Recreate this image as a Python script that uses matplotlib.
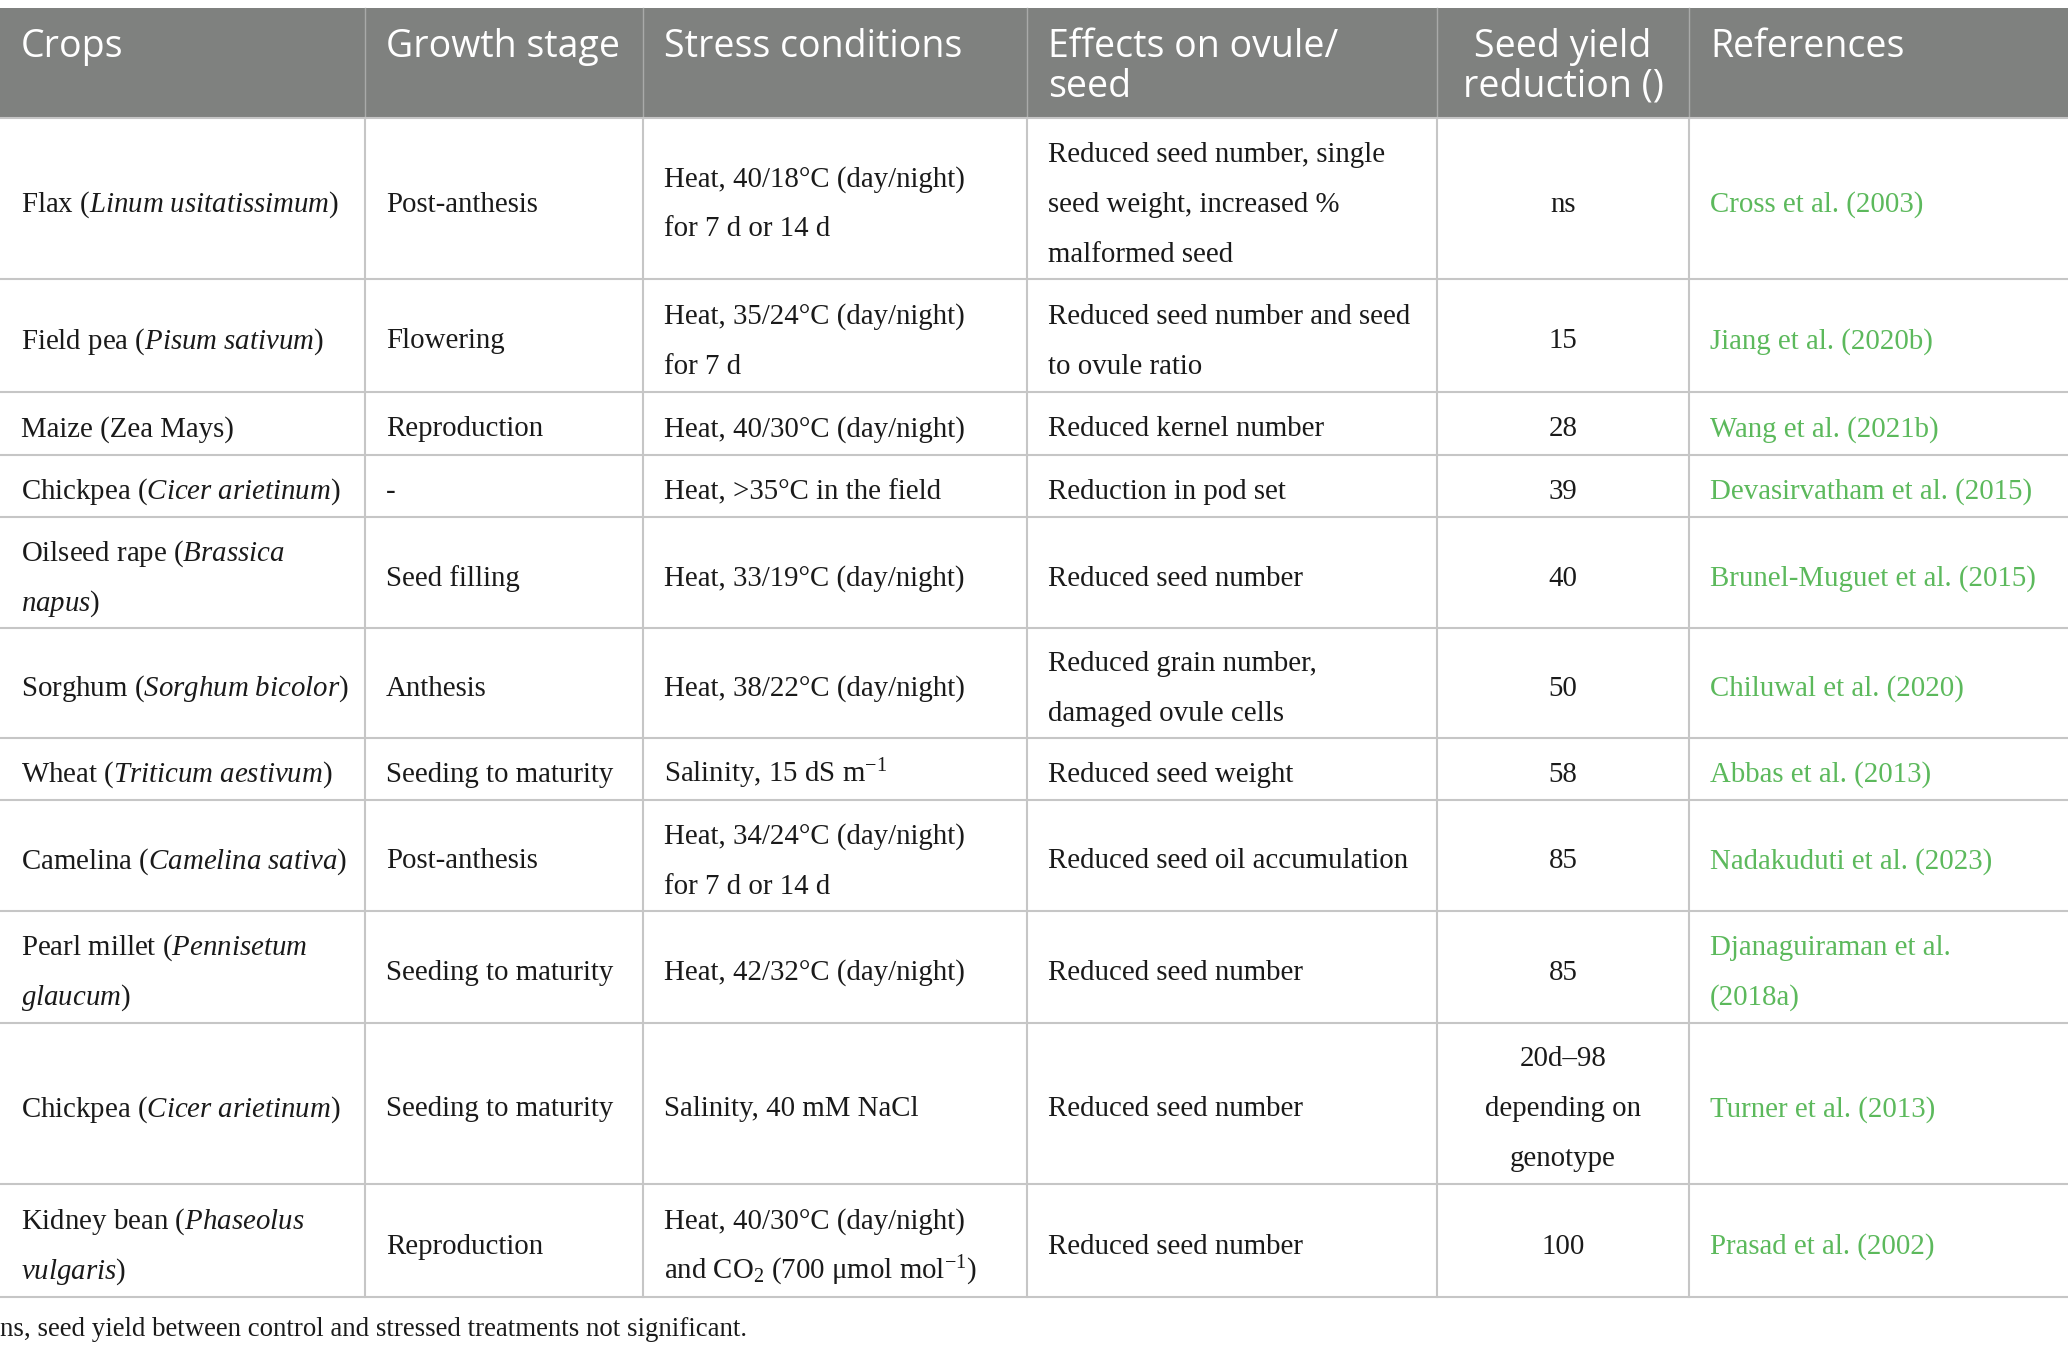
import re

import matplotlib
matplotlib.use("Agg")
import matplotlib.pyplot as plt
from matplotlib.patches import Rectangle

plt.rcParams["mathtext.fontset"] = "custom"
plt.rcParams["mathtext.rm"] = "Liberation Serif"
plt.rcParams["mathtext.it"] = "Liberation Serif:italic"

# table content; _text_ marks italic species names
headers = ["Crops", "Growth stage", "Stress conditions", "Effects on ovule/\nseed",
           "Seed yield\nreduction ()", "References"]
crops = ["Flax (_Linum usitatissimum_)", "Field pea (_Pisum sativum_)", "Maize (Zea Mays)",
         "Chickpea (_Cicer arietinum_)", "Oilseed rape (_Brassica_\n_napus_)",
         "Sorghum (_Sorghum bicolor_)", "Wheat (_Triticum aestivum_)", "Camelina (_Camelina sativa_)",
         "Pearl millet (_Pennisetum_\n_glaucum_)", "Chickpea (_Cicer arietinum_)",
         "Kidney bean (_Phaseolus_\n_vulgaris_)"]
stages = ["Post-anthesis", "Flowering", "Reproduction", "-", "Seed filling", "Anthesis",
          "Seeding to maturity", "Post-anthesis", "Seeding to maturity", "Seeding to maturity",
          "Reproduction"]
stresses = ["Heat, 40/18°C (day/night)\nfor 7 d or 14 d", "Heat, 35/24°C (day/night)\nfor 7 d",
            "Heat, 40/30°C (day/night)", "Heat, >35°C in the field", "Heat, 33/19°C (day/night)",
            "Heat, 38/22°C (day/night)", "Salinity, 15 dS m$^{-1}$",
            "Heat, 34/24°C (day/night)\nfor 7 d or 14 d", "Heat, 42/32°C (day/night)",
            "Salinity, 40 mM NaCl",
            "Heat, 40/30°C (day/night)\nand CO$_2$ (700 μmol mol$^{-1}$)"]
effects = ["Reduced seed number, single\nseed weight, increased %\nmalformed seed",
           "Reduced seed number and seed\nto ovule ratio", "Reduced kernel number",
           "Reduction in pod set", "Reduced seed number", "Reduced grain number,\ndamaged ovule cells",
           "Reduced seed weight", "Reduced seed oil accumulation", "Reduced seed number",
           "Reduced seed number", "Reduced seed number"]
yield_reduction = ["ns", "15", "28", "39", "40", "50", "58", "85", "85",
                   "20d–98\ndepending on\ngenotype", "100"]
references = ["Cross et al. (2003)", "Jiang et al. (2020b)", "Wang et al. (2021b)",
              "Devasirvatham et al. (2015)", "Brunel-Muguet et al. (2015)", "Chiluwal et al. (2020)",
              "Abbas et al. (2013)", "Nadakuduti et al. (2023)", "Djanaguiraman et al.\n(2018a)",
              "Turner et al. (2013)", "Prasad et al. (2002)"]
footnote = "ns, seed yield between control and stressed treatments not significant."

# layout in pixels
W, H = 2068, 1353
col_edges = [0, 365, 643, 1027, 1437, 1689, 2068]
row_edges = [118, 279, 392, 455, 517, 628, 738, 800, 911, 1023, 1184, 1297]
header_top = 8
pad = 21
line_step = 50
header_step = 40

HEADER_GRAY = "#7f817f"
GRID = "#c6c6c6"
GREEN = "#5cb95c"
BODY_FONT = "Liberation Serif"
HEAD_FONT = "Open Sans"


def italic(s):
    return re.sub(r"_(.+?)_", lambda m: r"$\mathit{" + m.group(1).replace(" ", r"\ ") + "}$", s)


def cell(ax, text, col, top, bottom, color="#1a1a1a", center=False):
    lines = text.split("\n")
    mid = (top + bottom) / 2
    x = (col_edges[col] + col_edges[col + 1]) / 2 if center else col_edges[col] + pad
    for i, line in enumerate(lines):
        y = mid + (i - (len(lines) - 1) / 2) * line_step + 13
        ax.text(x, y, line, ha="center" if center else "left", va="baseline",
                fontsize=20.8, family=BODY_FONT, color=color)


fig = plt.figure(figsize=(W / 100, H / 100), dpi=100)
ax = fig.add_axes([0, 0, 1, 1])
ax.set_xlim(0, W)
ax.set_ylim(H, 0)
ax.axis("off")

ax.add_patch(Rectangle((0, header_top), W, row_edges[0] - header_top, color=HEADER_GRAY, lw=0))
for x in col_edges[1:-1]:
    ax.plot([x, x], [header_top, row_edges[0]], color="#a9aaa9", lw=1.0)
    ax.plot([x, x], [row_edges[0], row_edges[-1]], color=GRID, lw=1.5)
for y in row_edges:
    ax.plot([0, W], [y, y], color=GRID, lw=1.5)

for c, head in enumerate(headers):
    for i, line in enumerate(head.split("\n")):
        if c == 4:
            x, ha = (col_edges[c] + col_edges[c + 1]) / 2, "center"
        else:
            x, ha = col_edges[c] + pad, "left"
        ax.text(x, 57 + i * header_step, line, ha=ha, va="baseline", fontsize=27,
                family=HEAD_FONT, color="white")

for r in range(len(crops)):
    top, bottom = row_edges[r], row_edges[r + 1]
    cell(ax, italic(crops[r]), 0, top, bottom)
    cell(ax, stages[r], 1, top, bottom)
    cell(ax, stresses[r], 2, top, bottom)
    cell(ax, effects[r], 3, top, bottom)
    cell(ax, yield_reduction[r], 4, top, bottom, center=True)
    cell(ax, references[r], 5, top, bottom, color=GREEN)

ax.text(0, 1336, footnote, ha="left", va="baseline", fontsize=19.4, family=BODY_FONT, color="#1a1a1a")

fig.savefig("out.png", dpi=100)
